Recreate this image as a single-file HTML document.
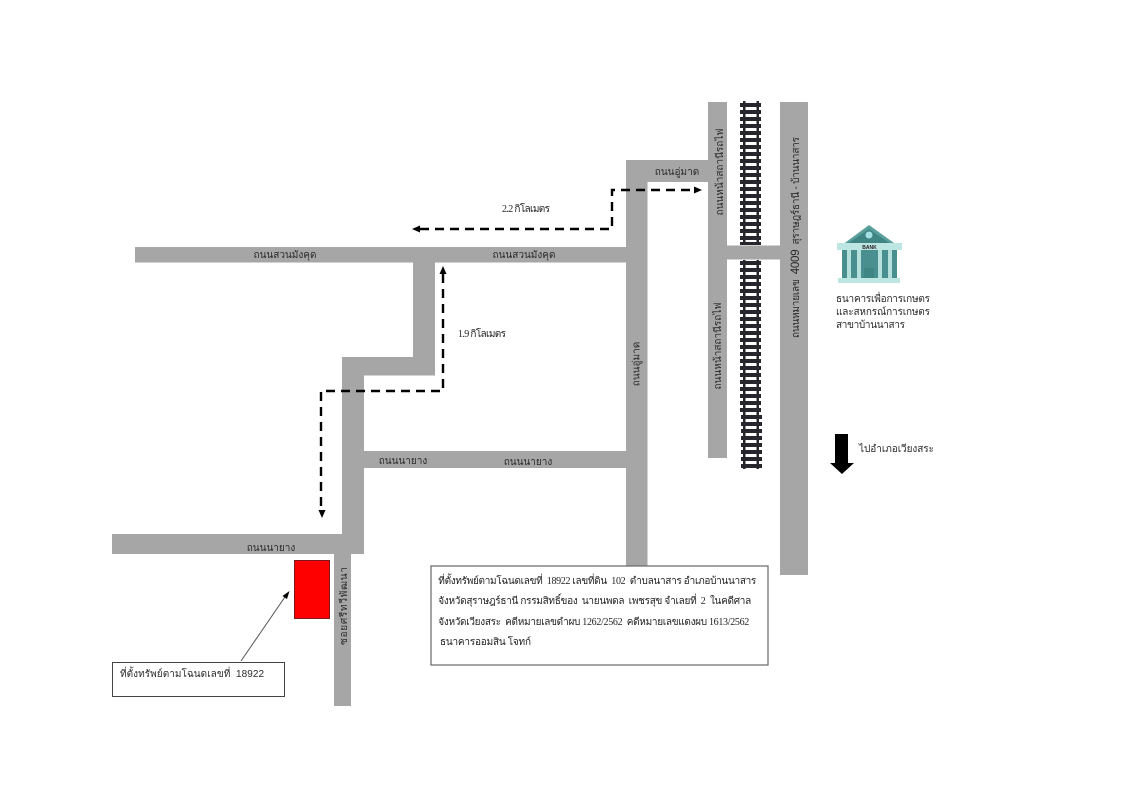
<!DOCTYPE html>
<html><head><meta charset="utf-8"><style>
html,body{margin:0;padding:0;background:#fff;width:1132px;height:800px;overflow:hidden}
svg{display:block}
text{font-family:"Liberation Serif","Noto Sans CJK SC",serif;fill:#222;white-space:pre}
.s{font-family:"Liberation Sans","Noto Sans CJK SC",sans-serif;font-size:10px;fill:#2a2a2a}
.d{fill:none;stroke:#000;stroke-width:2.4;stroke-dasharray:9 6}
</style></head><body>
<svg width="1132" height="800" viewBox="0 0 1132 800" xmlns="http://www.w3.org/2000/svg">
<rect width="1132" height="800" fill="#fff"/>
<g fill="#a6a6a6">
<rect x="135" y="247" width="492" height="15.500"/>
<rect x="626" y="160" width="21.500" height="406"/>
<rect x="626" y="160" width="83" height="22"/>
<rect x="708" y="102" width="19" height="356"/>
<rect x="726" y="245.500" width="55" height="14"/>
<rect x="780" y="102" width="28" height="473"/>
<rect x="413" y="262" width="22" height="113"/>
<rect x="342" y="357" width="93" height="18.500"/>
<rect x="342" y="357" width="22" height="197"/>
<rect x="364" y="451" width="263" height="17"/>
<rect x="112" y="534" width="252" height="20"/>
<rect x="334" y="554" width="17" height="152"/>
</g>
<!-- rail -->
<g fill="#26262c">
<rect x="743" y="101" width="2.500" height="144"/><rect x="756.500" y="101" width="2.500" height="144"/>
<rect x="743" y="260" width="2.500" height="209"/><rect x="756.500" y="260" width="2.500" height="209"/>
<path d="M740 103h21v4h-21zM740 110h21v4h-21zM740 117h21v4h-21zM740 124h21v4h-21zM740 131h21v4h-21zM740 138h21v4h-21zM740 145h21v4h-21zM740 152h21v4h-21zM740 159h21v4h-21zM740 166h21v4h-21zM740 173h21v4h-21zM740 180h21v4h-21zM740 187h21v4h-21zM740 194h21v4h-21zM740 201h21v4h-21zM740 208h21v4h-21zM740 215h21v4h-21zM740 222h21v4h-21zM740 229h21v4h-21zM740 236h21v4h-21zM740 242h21v3h-21z"/>
<path d="M740 261h21v4h-21zM740 268h21v4h-21zM740 275h21v4h-21zM740 282h21v4h-21zM740 289h21v4h-21zM740 296h21v4h-21zM740 303h21v4h-21zM740 310h21v4h-21zM740 317h21v4h-21zM740 324h21v4h-21zM740 331h21v4h-21zM740 338h21v4h-21zM740 345h21v4h-21zM740 352h21v4h-21zM740 359h21v4h-21zM740 366h21v4h-21zM740 373h21v4h-21zM740 380h21v4h-21zM740 387h21v4h-21zM740 394h21v4h-21zM740 401h21v4h-21zM740 408h21v4h-21zM741 415h21v4h-21zM741 422h21v4h-21zM741 429h21v4h-21zM741 436h21v4h-21zM741 443h21v4h-21zM741 450h21v4h-21zM741 457h21v4h-21zM741 464h21v4h-21z"/>
</g>
<!-- dashed routes -->
<path class="d" d="M420 229H612V190H695"/>
<path d="M412 229l8-3.500v7zM702 190l-8-3.500v7z" fill="#000"/>
<path class="d" d="M443 274V391H321V511"/>
<path d="M443 266l-3.500 8h7zM322 518l-3.500-8h7z" fill="#000"/>
<!-- red lot -->
<rect x="294.500" y="560.500" width="35" height="58" fill="#f00" stroke="#7a1a1a"/>
<!-- thin arrow -->
<line x1="241" y1="661" x2="287" y2="594" stroke="#555" stroke-width="1"/>
<path d="M289.500 591l-7 5 4.500 3z" fill="#000"/>
<rect x="112.500" y="662.500" width="172" height="34" fill="#fff" stroke="#444"/>
<rect x="431" y="566" width="337" height="99" fill="#fff" stroke="#666" stroke-width="1.200"/>
<!-- big arrow -->
<path d="M835 434h13v29h6l-12 11-12-11h5z" fill="#000"/>
<!-- bank -->
<g>
<path d="M869 225l-31 23h63z" fill="#5a9f9c"/>
<path d="M869 229l-22 15h44z" fill="#3f8583"/>
<circle cx="869" cy="235" r="3.500" fill="#a5dfe6"/>
<rect x="837" y="243" width="65" height="7" fill="#bde5e1"/>
<rect x="842" y="250" width="55" height="28" fill="#4a8f8f"/>
<rect x="864" y="268" width="10" height="10" fill="#3f8583"/>
<g fill="#b5e0dc"><rect x="847" y="250" width="4" height="28"/><rect x="857" y="250" width="4" height="28"/><rect x="878" y="250" width="4" height="28"/><rect x="888" y="250" width="4" height="28"/></g>
<rect x="838" y="278" width="62" height="5" fill="#bde5e1"/>
<text x="869.500" y="249" font-size="5" font-weight="700" text-anchor="middle" style="font-family:'Liberation Sans',sans-serif">BANK</text>
</g>
<!-- road labels -->
<text class="s" x="285" y="258" text-anchor="middle">ถนนสวนมังคุด</text>
<text class="s" x="524" y="258" text-anchor="middle">ถนนสวนมังคุด</text>
<text class="s" x="677" y="175" text-anchor="middle">ถนนอู่มาด</text>
<text class="s" x="403" y="464" text-anchor="middle">ถนนนายาง</text>
<text class="s" x="528" y="465" text-anchor="middle">ถนนนายาง</text>
<text class="s" x="271" y="551" text-anchor="middle">ถนนนายาง</text>
<text class="s" transform="translate(637 364) rotate(-90)" text-anchor="middle" dominant-baseline="middle">ถนนอู่มาด</text>
<text class="s" transform="translate(723 172) rotate(-90)" text-anchor="middle">ถนนหน้าสถานีรถไฟ</text>
<text class="s" transform="translate(721 346) rotate(-90)" text-anchor="middle">ถนนหน้าสถานีรถไฟ</text>
<text class="s" transform="translate(799 338) rotate(-90)" textLength="201" lengthAdjust="spacing">ถนนหมายเลข  <tspan font-size="11.500">4009</tspan>  สุราษฎร์ธานี - บ้านนาสาร</text>
<text class="s" transform="translate(347 645) rotate(-90)" textLength="78" lengthAdjust="spacing">ซอยศรีทวีพัฒนา</text>
<!-- distances -->
<text x="502" y="212" font-size="10" textLength="48" lengthAdjust="spacing">2.2 กิโลเมตร</text>
<text x="458" y="337" font-size="10" textLength="48" lengthAdjust="spacing">1.9 กิโลเมตร</text>
<!-- bank caption -->
<text class="s" x="836" y="302" textLength="94" lengthAdjust="spacing">ธนาคารเพื่อการเกษตร</text>
<text class="s" x="836" y="315" textLength="94" lengthAdjust="spacing">และสหกรณ์การเกษตร</text>
<text class="s" x="836" y="328" textLength="69" lengthAdjust="spacing">สาขาบ้านนาสาร</text>
<text class="s" x="859" y="452" textLength="75" lengthAdjust="spacing">ไปอำเภอเวียงสระ</text>
<text class="s" x="120" y="677" textLength="144" lengthAdjust="spacing">ที่ตั้งทรัพย์ตามโฉนดเลขที่  18922</text>
<!-- note -->
<g font-size="10">
<text x="438" y="584" font-size="10" textLength="318" lengthAdjust="spacing">ที่ตั้งทรัพย์ตามโฉนดเลขที่  18922 เลขที่ดิน  102  ตำบลนาสาร อำเภอบ้านนาสาร</text>
<text x="438" y="604" font-size="10" textLength="313" lengthAdjust="spacing">จังหวัดสุราษฎร์ธานี กรรมสิทธิ์ของ  นายนพดล  เพชรสุข จำเลยที่  2  ในคดีศาล</text>
<text x="438" y="625" font-size="10" textLength="311" lengthAdjust="spacing">จังหวัดเวียงสระ  คดีหมายเลขดำผบ 1262/2562  คดีหมายเลขแดงผบ 1613/2562</text>
<text x="440" y="645" font-size="10" textLength="91" lengthAdjust="spacing">ธนาคารออมสิน โจทก์</text>
</g>
</svg>
</body></html>
